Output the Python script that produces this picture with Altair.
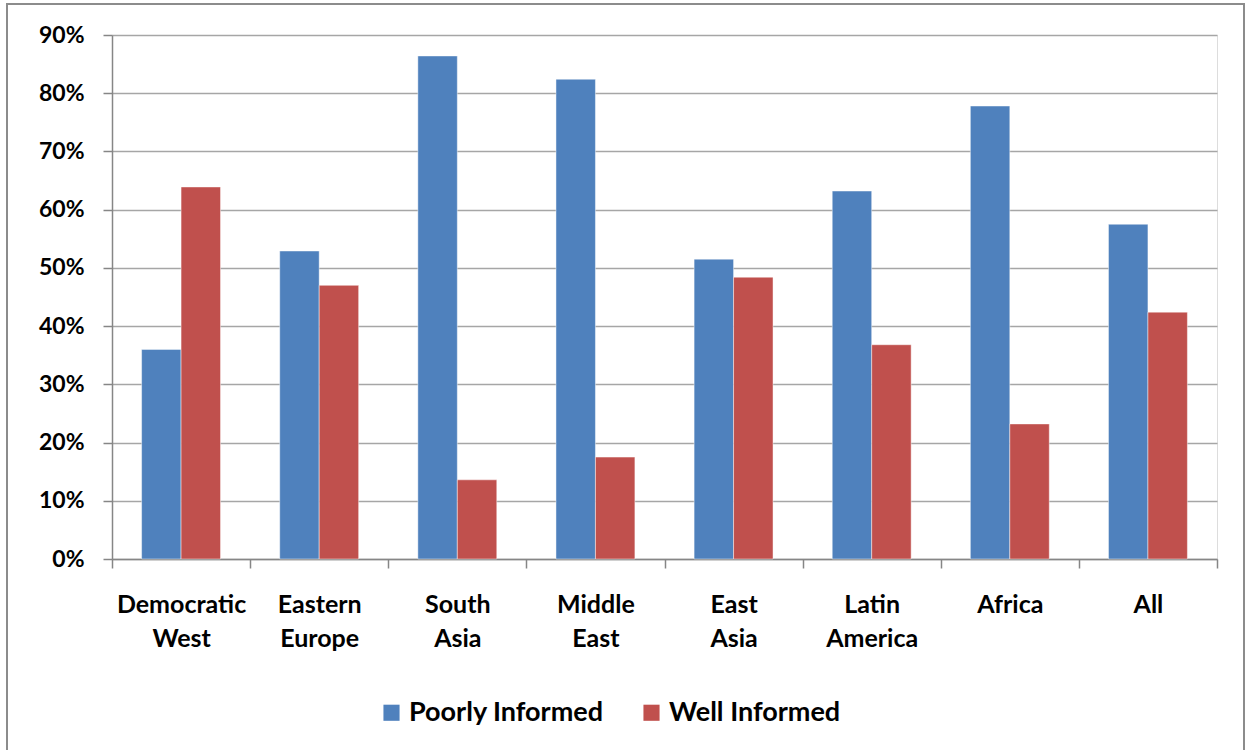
import altair as alt
import pandas as pd

regions = ["Democratic West", "Eastern Europe", "South Asia", "Middle East",
           "East Asia", "Latin America", "Africa", "All"]
poorly = [36.0, 52.9, 86.4, 82.4, 51.5, 63.2, 77.8, 57.5]
well = [63.9, 47.0, 13.6, 17.5, 48.4, 36.8, 23.2, 42.4]
series = ["Poorly Informed", "Well Informed"]
colors = ["#4F81BD", "#C0504D"]
y_ticks = [0, 0.1, 0.2, 0.3, 0.4, 0.5, 0.6, 0.7, 0.8, 0.9]

rows = []
for r, p, w in zip(regions, poorly, well):
    rows.append({"region": r, "series": series[0], "value": p / 100})
    rows.append({"region": r, "series": series[1], "value": w / 100})
df = pd.DataFrame(rows)

FONT = "Lato"
W, H = 1105, 524

bars = alt.Chart(df).mark_bar(stroke="white", strokeOpacity=0.45, strokeWidth=1).encode(
    x=alt.X("region:N", sort=regions,
            scale=alt.Scale(paddingInner=0, paddingOuter=0),
            axis=alt.Axis(title=None, labelAngle=0, tickBand="extent",
                          labelExpr="split(datum.label, ' ')",
                          labelLineHeight=34, labelPadding=24,
                          labelFont=FONT, labelFontSize=25, labelFontWeight="bold",
                          labelColor="#000000", labelBaseline="top", labelLimit=300,
                          domainColor="#868686", tickColor="#868686",
                          tickSize=9, grid=False, domainWidth=1.5, tickWidth=1.5)),
    xOffset=alt.XOffset("series:N", sort=series,
                        scale=alt.Scale(paddingOuter=0.75, paddingInner=0)),
    y=alt.Y("value:Q", scale=alt.Scale(domain=[0, 0.9], nice=False),
            axis=alt.Axis(title=None, format=".0%", values=y_ticks,
                          labelFont=FONT, labelFontSize=23, labelFontWeight="bold",
                          labelColor="#000000", labelPadding=19,
                          domainColor="#868686", tickColor="#868686",
                          gridColor="#A6A6A6", gridWidth=1.5,
                          tickSize=9, domainWidth=1.5, tickWidth=1.5)),
    color=alt.Color("series:N", sort=series,
                    scale=alt.Scale(domain=series, range=colors),
                    legend=alt.Legend(title=None, orient="none", direction="horizontal",
                                      legendX=266, legendY=H + 140,
                                      symbolType="square", symbolSize=260,
                                      symbolStrokeWidth=0, labelLimit=500,
                                      labelFont=FONT, labelFontSize=27,
                                      labelFontWeight="bold", labelColor="#000000",
                                      columnPadding=34, labelOffset=4)),
)

border = alt.Chart(pd.DataFrame({"a": [0]})).mark_rect(
    fill=None, stroke="#8C8C8C", strokeWidth=2, clip=False
).encode(
    x=alt.value(-105), x2=alt.value(1132), y=alt.value(-31), y2=alt.value(H + 200)
)

chart = alt.layer(bars, border).properties(
    width=W, height=H,
    autosize=alt.AutoSizeParams(type="none"),
    padding={"left": 112, "top": 35, "right": 28, "bottom": 191},
).configure_view(stroke=None).configure(background="white")

chart.save("out.html", embed_options={"renderer": "svg", "actions": False})
